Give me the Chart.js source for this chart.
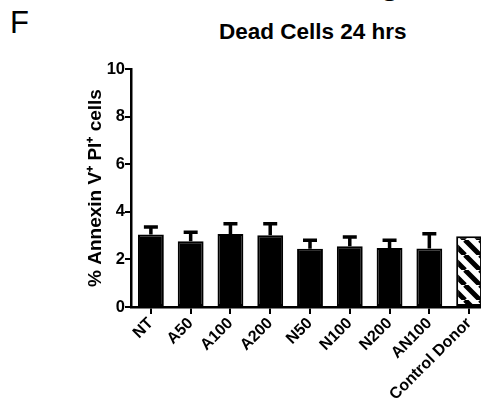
<!DOCTYPE html>
<html>
<head>
<meta charset="utf-8">
<script src="https://cdn.jsdelivr.net/npm/chart.js@4"></script>
<style>
  body { margin: 0; width: 481px; height: 414px; overflow: hidden; background: #fff; position: relative; font-family: "Liberation Sans", Arial, sans-serif; }
  #panel { position: absolute; left: 10px; top: 5px; font-size: 31px; line-height: 1.15; }
  #frag { position: absolute; left: 382px; top: -19px; font-size: 22px; font-weight: bold; }
  #title { position: absolute; left: 219px; top: 19px; font-size: 22.5px; font-weight: bold; white-space: nowrap; line-height: 1.15; }
  canvas { position: absolute; left: 0; top: 0; }
</style>
</head>
<body>
<div id="panel">F</div>
<div id="frag">S</div>
<div id="title">Dead Cells 24 hrs</div>
<canvas id="chart" width="489" height="414"></canvas>
<script>
// datos
const categorias = ['NT', 'A50', 'A100', 'A200', 'N50', 'N100', 'N200', 'AN100', 'Control Donor'];
const medias = [3.05, 2.76, 3.07, 3.01, 2.45, 2.55, 2.48, 2.46, 2.97];
const errores = [0.31, 0.38, 0.43, 0.49, 0.35, 0.39, 0.32, 0.62, null];
const ticksY = [0, 2, 4, 6, 8, 10];

const font = { family: '"Liberation Sans", Arial, sans-serif', weight: 'bold' };

// patrón rayado para el control
function crearRayado() {
  const n = 15;
  const c = document.createElement('canvas');
  c.width = n; c.height = n;
  const g = c.getContext('2d');
  g.fillStyle = '#fff';
  g.fillRect(0, 0, n, n);
  g.strokeStyle = '#000';
  g.lineWidth = 5;
  g.beginPath();
  for (let k = -n; k <= n; k += n) {
    g.moveTo(k, 0);
    g.lineTo(k + n, n);
  }
  g.stroke();
  return document.getElementById('chart').getContext('2d').createPattern(c, 'repeat');
}

const rayado = crearRayado();
const fondos = categorias.map((c, i) => (i === categorias.length - 1 ? rayado : '#000'));

// barras de error (solo la mitad superior)
const erroresPlugin = {
  id: 'errores',
  afterDatasetsDraw(chart) {
    const ctx = chart.ctx;
    const x = chart.scales.x;
    const y = chart.scales.y;
    ctx.save();
    ctx.strokeStyle = '#000';
    ctx.lineWidth = 3.5;
    medias.forEach((m, i) => {
      if (errores[i] == null) return;
      const px = x.getPixelForValue(i);
      const y0 = y.getPixelForValue(m);
      const y1 = y.getPixelForValue(m + errores[i]);
      ctx.beginPath();
      ctx.moveTo(px, y0);
      ctx.lineTo(px, y1);
      ctx.moveTo(px - 7, y1);
      ctx.lineTo(px + 7, y1);
      ctx.stroke();
    });
    ctx.restore();
  },
};

new Chart(document.getElementById('chart'), {
  type: 'bar',
  data: {
    labels: categorias,
    datasets: [
      {
        data: medias,
        backgroundColor: fondos,
        borderColor: '#000',
        borderWidth: 2,
        borderSkipped: false,
        barPercentage: 0.65,
        categoryPercentage: 1,
      },
    ],
  },
  options: {
    responsive: false,
    animation: false,
    events: [],
    layout: { padding: { top: 69, left: 84, right: 0, bottom: 0 } },
    plugins: { legend: { display: false }, title: { display: false }, tooltip: { enabled: false } },
    scales: {
      x: {
        afterFit: (s) => { s.height = 107; },
        border: { color: '#000', width: 2.5 },
        grid: { offset: false, drawOnChartArea: false, color: '#000', lineWidth: 2, tickLength: 7 },
        ticks: { color: '#000', minRotation: 45, maxRotation: 45, autoSkip: false, padding: 0, font: { ...font, size: 16 } },
      },
      y: {
        min: 0,
        max: 10,
        afterFit: (s) => { s.width = 47; },
        afterBuildTicks: (s) => { s.ticks = ticksY.map((v) => ({ value: v })); },
        border: { color: '#000', width: 2.5 },
        grid: { drawOnChartArea: false, color: '#000', lineWidth: 2, tickLength: 6 },
        ticks: { color: '#000', padding: 0, font: { ...font, size: 16.5 } },
        title: {
          display: true,
          text: '% Annexin V\u207A PI\u207A cells',
          color: '#000',
          padding: { top: 0, bottom: 0 },
          font: { ...font, size: 19 },
        },
      },
    },
  },
  plugins: [erroresPlugin],
});
</script>
</body>
</html>
